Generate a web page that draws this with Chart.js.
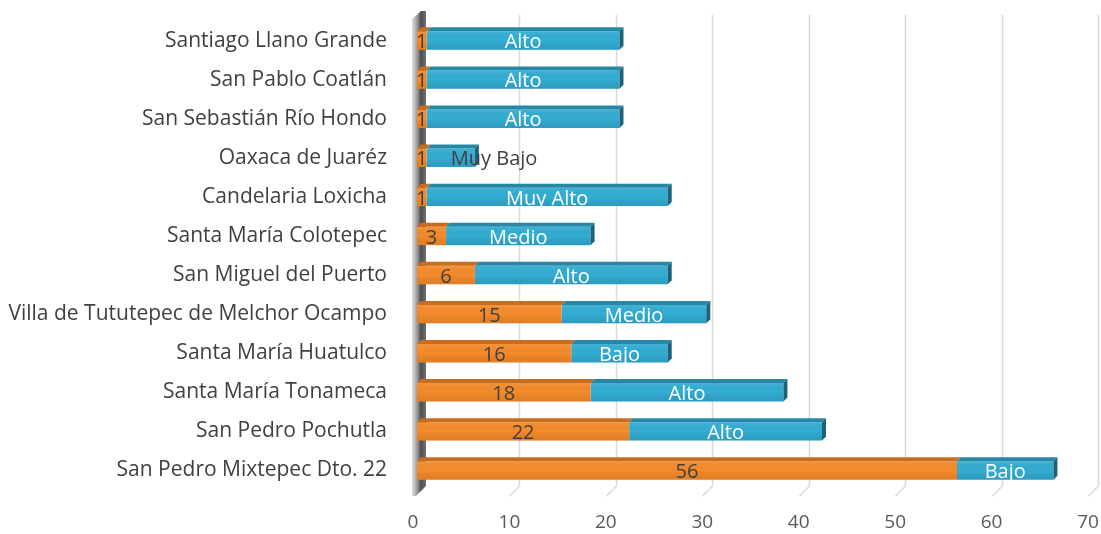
<!DOCTYPE html>
<html>
<head>
<meta charset="utf-8">
<script src="https://cdn.jsdelivr.net/npm/chart.js@4.4.0/dist/chart.umd.min.js"></script>
<style>
  html, body { margin: 0; padding: 0; background: #fff; }
  #wrap { width: 1101px; height: 534px; }
</style>
</head>
<body>
<div id="wrap"><canvas id="chart" width="1101" height="534"></canvas></div>
<script>
// Municipios (de arriba hacia abajo)
const municipios = [
    'Santiago Llano Grande',
    'San Pablo Coatlán',
    'San Sebastián Río Hondo',
    'Oaxaca de Juaréz',
    'Candelaria Loxicha',
    'Santa María Colotepec',
    'San Miguel del Puerto',
    'Villa de Tututepec de Melchor Ocampo',
    'Santa María Huatulco',
    'Santa María Tonameca',
    'San Pedro Pochutla',
    'San Pedro Mixtepec Dto. 22'
];

// Serie naranja (casos)
const casos = [1, 1, 1, 1, 1, 3, 6, 15, 16, 18, 22, 56];

// Serie azul (grado de marginación)
const marginacion = [20, 20, 20, 5, 25, 15, 20, 15, 10, 20, 20, 10];
const etiquetasMarginacion = ['Alto', 'Alto', 'Alto', 'Muy Bajo', 'Muy Alto', 'Medio', 'Alto', 'Medio', 'Bajo', 'Alto', 'Alto', 'Bajo'];

const ticksX = [0, 10, 20, 30, 40, 50, 60, 70];

const FONT = '"Open Sans", "Noto Sans", sans-serif';
const DEPTH = 4;

// pared izquierda, rejilla en perspectiva y etiquetas del eje X
const backdrop = {
    id: 'backdrop',
    beforeDatasetsDraw(chart) {
        const { ctx, chartArea: a, scales } = chart;
        ctx.save();
        // rejilla vertical
        ctx.strokeStyle = '#d9d9d9';
        ctx.lineWidth = 1.5;
        ticksX.forEach(v => {
            if (v === 0) return;
            const x = Math.round(scales.x.getPixelForValue(v)) + 6.5;
            ctx.beginPath();
            ctx.moveTo(x, a.top - 6);
            ctx.lineTo(x, a.bottom - 4);
            ctx.lineTo(x - 10, a.bottom + 6);
            ctx.stroke();
        });
        // etiquetas del eje (desplazadas por la perspectiva)
        ctx.fillStyle = '#595959';
        ctx.font = '19px ' + FONT;
        ctx.textAlign = 'center';
        ctx.textBaseline = 'middle';
        ticksX.forEach(v => {
            ctx.fillText(String(v), scales.x.getPixelForValue(v) - 4, a.bottom + 33);
        });
        // pared
        const g = ctx.createLinearGradient(a.left - 5, 0, a.left + 10, 0);
        g.addColorStop(0, '#e0e0e0');
        g.addColorStop(0.35, '#9a9a9a');
        g.addColorStop(0.6, '#4d4d4d');
        g.addColorStop(1, '#7a7a7a');
        ctx.fillStyle = g;
        ctx.beginPath();
        ctx.moveTo(a.left - 5, a.top - 2);
        ctx.lineTo(a.left + 4, a.top - 10);
        ctx.lineTo(a.left + 9, a.top - 10);
        ctx.lineTo(a.left + 9, a.bottom - 4);
        ctx.lineTo(a.left - 1, a.bottom + 6);
        ctx.lineTo(a.left - 5, a.bottom + 6);
        ctx.closePath();
        ctx.fill();
        ctx.restore();
    }
};

// caras superior y lateral de las barras
const bars3d = {
    id: 'bars3d',
    afterDatasetsDraw(chart) {
        const { ctx } = chart;
        const tops = ['#c96c1e', '#2788a6'];
        const shades = ['rgba(150,70,0,0.18)', 'rgba(10,70,100,0.16)'];
        ctx.save();
        chart.data.datasets.forEach((ds, di) => {
            chart.getDatasetMeta(di).data.forEach((el, i) => {
                const top = el.y - el.height / 2;
                const bot = el.y + el.height / 2;
                const x0 = Math.min(el.base, el.x);
                const x1 = Math.max(el.base, el.x);
                // sombreado inferior del frente
                const sg = ctx.createLinearGradient(0, top, 0, bot);
                sg.addColorStop(0, 'rgba(255,255,255,0.08)');
                sg.addColorStop(0.5, 'rgba(0,0,0,0)');
                sg.addColorStop(1, shades[di]);
                ctx.fillStyle = sg;
                ctx.fillRect(x0, top, x1 - x0, bot - top);
                ctx.fillStyle = tops[di];
                ctx.beginPath();
                ctx.moveTo(x0, top);
                ctx.lineTo(x1, top);
                ctx.lineTo(x1 + DEPTH, top - DEPTH);
                ctx.lineTo(x0 + DEPTH, top - DEPTH);
                ctx.closePath();
                ctx.fill();
                if (di === chart.data.datasets.length - 1) {
                    ctx.fillStyle = '#1d6279';
                    ctx.beginPath();
                    ctx.moveTo(x1, top);
                    ctx.lineTo(x1 + DEPTH, top - DEPTH);
                    ctx.lineTo(x1 + DEPTH, bot - DEPTH);
                    ctx.lineTo(x1, bot);
                    ctx.closePath();
                    ctx.fill();
                }
            });
        });

        // etiquetas de datos
        ctx.font = '20px ' + FONT;
        ctx.textBaseline = 'middle';
        chart.getDatasetMeta(0).data.forEach((el, i) => {
            ctx.fillStyle = '#404040';
            ctx.textAlign = 'center';
            ctx.fillText(String(casos[i]), (el.base + el.x) / 2, el.y + 2);
        });
        chart.getDatasetMeta(1).data.forEach((el, i) => {
            const txt = etiquetasMarginacion[i];
            const w = ctx.measureText(txt).width;
            const cx = (el.base + el.x) / 2;
            if (w < el.x - el.base) {
                ctx.fillStyle = '#ffffff';
                ctx.textAlign = 'center';
                ctx.fillText(txt, cx, el.y + 2);
            } else {
                ctx.fillStyle = '#404040';
                ctx.textAlign = 'left';
                ctx.fillText(txt, cx, el.y + 2);
            }
        });
        ctx.restore();
    }
};

new Chart(document.getElementById('chart'), {
    type: 'bar',
    data: {
        labels: municipios,
        datasets: [
            {
                label: 'Casos',
                data: casos,
                backgroundColor: '#f58b2b',
                borderWidth: 0,
                barPercentage: 0.47,
                categoryPercentage: 1
            },
            {
                label: 'Marginación',
                data: marginacion,
                backgroundColor: '#33add3',
                borderWidth: 0,
                barPercentage: 0.47,
                categoryPercentage: 1
            }
        ]
    },
    options: {
        indexAxis: 'y',
        responsive: false,
        animation: false,
        layout: { padding: { top: 21, right: 9, left: 0, bottom: 0 } },
        plugins: {
            legend: { display: false },
            tooltip: { enabled: false }
        },
        scales: {
            x: {
                stacked: true,
                min: 0,
                max: 70,
                afterBuildTicks(scale) {
                    scale.ticks = ticksX.map(v => ({ value: v }));
                },
                grid: { display: false },
                border: { display: false },
                ticks: { display: false },
                afterFit(scale) {
                    scale.height = 44;
                    scale.paddingLeft = 0;
                    scale.paddingRight = 0;
                }
            },
            y: {
                stacked: true,
                grid: { display: false },
                border: { display: false },
                ticks: {
                    color: '#404040',
                    font: { family: FONT, size: 21 },
                    padding: 22
                },
                afterFit(scale) {
                    scale.width = 417;
                    scale.paddingTop = 0;
                    scale.paddingBottom = 0;
                }
            }
        }
    },
    plugins: [backdrop, bars3d]
});
</script>
</body>
</html>
